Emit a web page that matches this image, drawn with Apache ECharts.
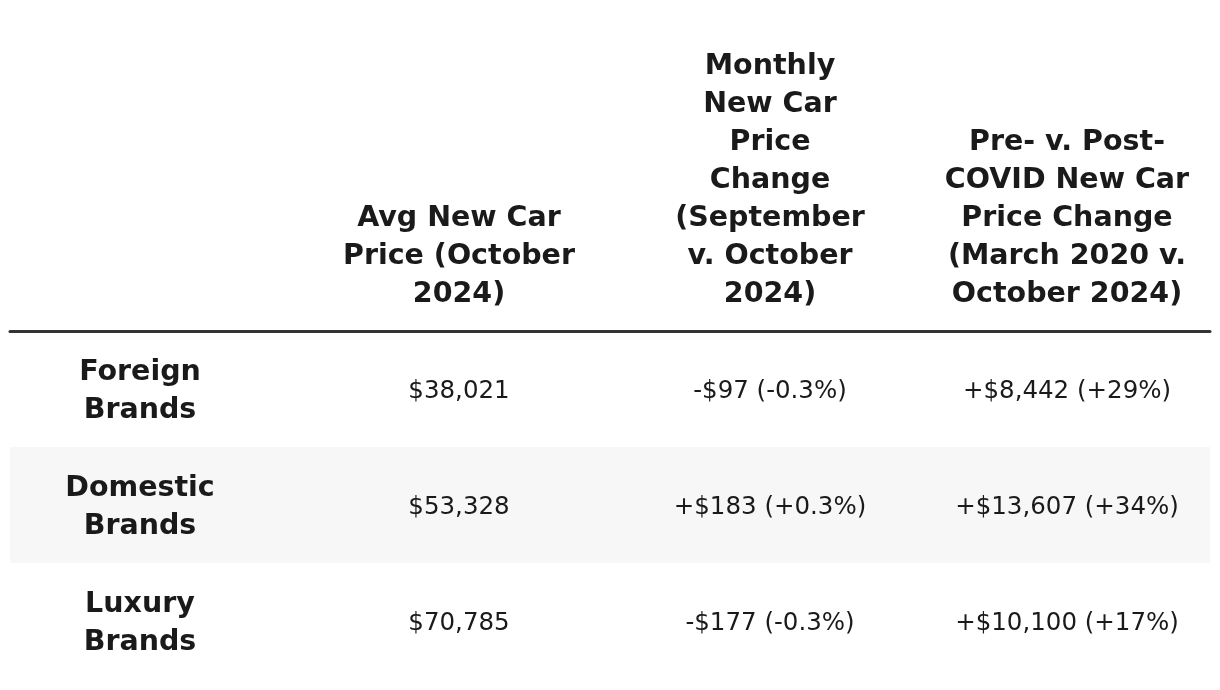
<!DOCTYPE html>
<html><head><meta charset="utf-8">
<script src="https://cdn.jsdelivr.net/npm/echarts@6/dist/echarts.min.js"></script>
<style>html,body{margin:0;padding:0;background:#fff}#c{width:1220px;height:690px}</style>
</head><body><div id="c"></div>
<script>
// ---- data ----
var headers = ['', 'Avg New Car\nPrice (October\n2024)', 'Monthly\nNew Car\nPrice\nChange\n(September\nv. October\n2024)', 'Pre- v. Post-\nCOVID New Car\nPrice Change\n(March 2020 v.\nOctober 2024)'];
var rowLabels = ['Foreign\nBrands', 'Domestic\nBrands', 'Luxury\nBrands'];
var avgPrice = ['$38,021', '$53,328', '$70,785'];
var monthlyChange = ['-$97 (-0.3%)', '+$183 (+0.3%)', '-$177 (-0.3%)'];
var covidChange = ['+$8,442 (+29%)', '+$13,607 (+34%)', '+$10,100 (+17%)'];

// ---- layout (positions kept separate from data) ----
var colCenters = [130, 449, 760, 1057];
var FONT = 'DejaVu Sans';
var HEAD_SIZE = 28.5, BODY_SIZE = 24.5;
var chart = echarts.init(document.getElementById('c'), null, {renderer: 'canvas'});

var columns = [rowLabels, avgPrice, monthlyChange, covidChange];
var bodySeries = columns.map(function (col, ci) {
  return {
    type: 'scatter', xAxisIndex: 0, yAxisIndex: 0, symbolSize: 0, silent: true,
    itemStyle: {opacity: 1},
    data: col.map(function (v, ri) { return {value: [colCenters[ci], ri], txt: v}; }),
    label: {
      show: true, position: 'inside', offset: [0, 3],
      formatter: function (p) { return p.data.txt; },
      fontFamily: FONT, fontSize: ci === 0 ? HEAD_SIZE : BODY_SIZE, fontWeight: ci === 0 ? 'bold' : 'normal',
      color: '#1a1a1a', opacity: 1, lineHeight: 38, align: 'center', verticalAlign: 'middle'
    }
  };
});
var headerSeries = {
  type: 'scatter', xAxisIndex: 1, yAxisIndex: 1, symbolSize: 0, silent: true,
  itemStyle: {opacity: 1},
  data: headers.map(function (h, ci) { return {value: [colCenters[ci], 0], txt: h}; }),
  label: {
    show: true, position: 'top', distance: 0,
    formatter: function (p) { return p.data.txt; },
    fontFamily: FONT, fontSize: HEAD_SIZE, fontWeight: 'bold', color: '#1a1a1a', opacity: 1,
    lineHeight: 38, align: 'center', verticalAlign: 'bottom'
  }
};

chart.setOption({
  animation: false,
  backgroundColor: '#ffffff',
  grid: [
    {left: 10, width: 1200, top: 331, height: 348},
    {left: 10, width: 1200, top: 0, height: 314}
  ],
  xAxis: [
    {type: 'value', gridIndex: 0, min: 0, max: 1200, position: 'top',
      axisLine: {show: true, onZero: false, lineStyle: {color: '#333333', width: 3}},
      axisTick: {show: false}, axisLabel: {show: false}, splitLine: {show: false}},
    {type: 'value', gridIndex: 1, min: 0, max: 1200, show: false}
  ],
  yAxis: [
    {type: 'category', gridIndex: 0, inverse: true, data: rowLabels,
      axisLine: {show: false}, axisTick: {show: false}, axisLabel: {show: false},
      splitLine: {show: false},
      splitArea: {show: true, areaStyle: {color: ['#ffffff', '#f7f7f7']}}},
    {type: 'value', gridIndex: 1, min: 0, max: 1, show: false}
  ],
  series: bodySeries.concat([headerSeries])
});
</script></body></html>
